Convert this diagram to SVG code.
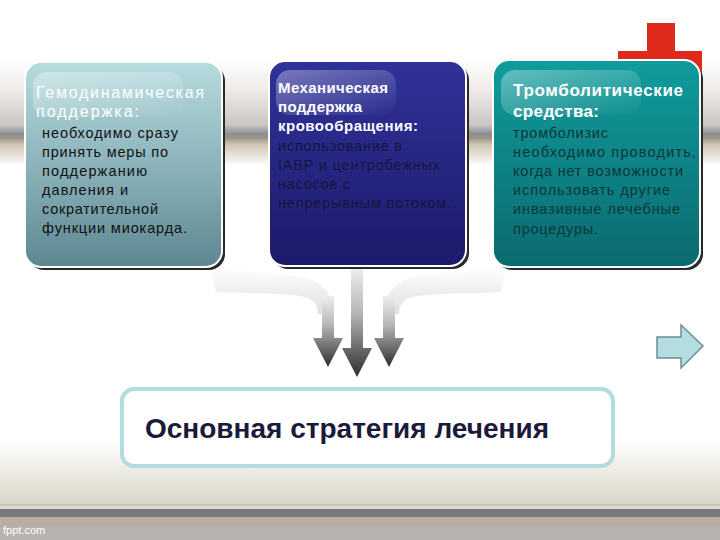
<svg xmlns="http://www.w3.org/2000/svg" width="720" height="540" viewBox="0 0 720 540">
<style>
.t{font-family:"Liberation Sans",Arial,sans-serif;font-size:14.5px;}
.h{font-family:"Liberation Sans",Arial,sans-serif;font-size:16px;fill:#ffffff;}
.hb{font-weight:bold;font-size:15px;}
.hc{font-weight:bold;font-size:17px;}
.b1{fill:#111111;}
.b2{fill:#15153e;}
.b3{fill:#0b3638;}
.shadow{fill:#2a2a2a;}
.rim{stroke:#ffffff;stroke-width:2;}
</style>
<defs>
<linearGradient id="band" x1="0" y1="0" x2="0" y2="1">
<stop offset="0" stop-color="#ffffff"/>
<stop offset="0.3" stop-color="#eeeae8"/>
<stop offset="0.62" stop-color="#c9c6c4"/>
<stop offset="0.7" stop-color="#8c9094"/>
<stop offset="0.74" stop-color="#9a9288"/>
<stop offset="0.8" stop-color="#cfc4b2"/>
<stop offset="1" stop-color="#ffffff"/>
</linearGradient>
<linearGradient id="foot" x1="0" y1="0" x2="0" y2="1">
<stop offset="0" stop-color="#ffffff"/>
<stop offset="1" stop-color="#d9d5c9"/>
</linearGradient>
<linearGradient id="g1" x1="0" y1="0" x2="0" y2="1">
<stop offset="0" stop-color="#b6dcdf"/>
<stop offset="0.5" stop-color="#8cb3ba"/>
<stop offset="1" stop-color="#5c8791"/>
</linearGradient>
<linearGradient id="g2" x1="0" y1="0" x2="0" y2="1">
<stop offset="0" stop-color="#30329a"/>
<stop offset="1" stop-color="#1b1b6a"/>
</linearGradient>
<linearGradient id="g3" x1="0" y1="0" x2="0" y2="1">
<stop offset="0" stop-color="#109c9c"/>
<stop offset="1" stop-color="#0b6a70"/>
</linearGradient>
<linearGradient id="gloss" x1="0" y1="0" x2="1" y2="1">
<stop offset="0" stop-color="#ffffff" stop-opacity="0.35"/>
<stop offset="1" stop-color="#ffffff" stop-opacity="0"/>
</linearGradient>
<linearGradient id="ag" x1="0" y1="0" x2="0" y2="1">
<stop offset="0" stop-color="#eeeeee"/>
<stop offset="0.4" stop-color="#b8b8b8"/>
<stop offset="1" stop-color="#2e2e2e"/>
</linearGradient>
<linearGradient id="tube" x1="0" y1="0" x2="0" y2="1">
<stop offset="0" stop-color="#ffffff"/>
<stop offset="1" stop-color="#e0e0e0"/>
</linearGradient>
</defs>

<!-- background -->
<rect x="0" y="0" width="720" height="540" fill="#ffffff"/>
<rect x="0" y="58" width="720" height="108" fill="url(#band)"/>
<rect x="0" y="440" width="720" height="64" fill="url(#foot)"/>
<rect x="0" y="504" width="720" height="2" fill="#c9c5b9"/>
<rect x="0" y="506" width="720" height="3" fill="#dcd8cc"/>
<rect x="0" y="509" width="720" height="8" fill="#787878"/>
<rect x="0" y="517" width="720" height="10" fill="#b9ada5"/>
<rect x="0" y="527" width="720" height="13" fill="#b7b3b1"/>
<text x="3" y="534" font-family="'Liberation Sans',Arial,sans-serif" font-size="11" fill="#ffffff">fppt.com</text>

<!-- red cross -->
<rect x="647" y="23" width="28" height="60" fill="#dd2a1b"/>
<rect x="618" y="51" width="84" height="40" fill="#dd2a1b"/>

<!-- connectors -->
<g id="connectors">
<path d="M210,266 C250,274 290,272 312,280 C328,287 333,300 333,314 L318,314 C318,303 312,298 300,296 C270,292 240,294 216,292 Z" fill="url(#tube)"/>
<path d="M507,266 C467,274 427,272 405,280 C389,287 384,300 384,314 L399,314 C399,303 405,298 417,296 C447,292 477,294 501,292 Z" fill="url(#tube)"/>
<polygon points="322,296 334,296 334,338 343,338 328,367 313,338 322,338" fill="url(#ag)"/>
<polygon points="351,268 363,268 363,348 372,348 357,377 342,348 351,348" fill="url(#ag)"/>
<polygon points="383,296 395,296 395,338 404,338 389,367 374,338 383,338" fill="url(#ag)"/>
<polygon points="657,337 681,337 681,325 703,346 681,368 681,358 657,358" fill="#b4dde1" stroke="#6f8f90" stroke-width="1.5"/>
</g>

<!-- node 1 -->
<g id="node-hemodynamic">
<rect x="28" y="65" width="197" height="205" rx="16" class="shadow"/>
<rect x="25" y="62" width="197" height="205" rx="16" fill="url(#g1)" class="rim"/>
<rect x="33" y="72" width="150" height="45" rx="14" fill="url(#gloss)"/>
<text class="h" x="36" y="98" textLength="168" lengthAdjust="spacing" fill="#eef8f8">Гемодинамическая</text>
<text class="h" x="36" y="117" textLength="103" lengthAdjust="spacing" fill="#eef8f8">поддержка:</text>
<text class="t b1" x="42" y="138" textLength="136" lengthAdjust="spacing">необходимо сразу</text>
<text class="t b1" x="42" y="157" textLength="126" lengthAdjust="spacing">принять меры по</text>
<text class="t b1" x="42" y="176" textLength="105" lengthAdjust="spacing">поддержанию</text>
<text class="t b1" x="42" y="195" textLength="86" lengthAdjust="spacing">давления и</text>
<text class="t b1" x="42" y="214" textLength="116" lengthAdjust="spacing">сократительной</text>
<text class="t b1" x="42" y="233" textLength="145" lengthAdjust="spacing">функции миокарда.</text>
</g>

<!-- node 2 -->
<g id="node-mechanical">
<rect x="272" y="64" width="197" height="205" rx="16" class="shadow"/>
<rect x="269" y="61" width="197" height="205" rx="16" fill="url(#g2)" class="rim"/>
<rect x="276" y="70" width="120" height="45" rx="14" fill="url(#gloss)"/>
<text class="h hb" x="278" y="93" textLength="110" lengthAdjust="spacing">Механическая</text>
<text class="h hb" x="278" y="112" textLength="84" lengthAdjust="spacing">поддержка</text>
<text class="h hb" x="278" y="131" textLength="140" lengthAdjust="spacing">кровообращения:</text>
<text class="t b2" x="278" y="151" textLength="124" lengthAdjust="spacing">использование в</text>
<text class="t b2" x="278" y="170" textLength="162" lengthAdjust="spacing">IABP и центробежных</text>
<text class="t b2" x="278" y="189" textLength="72" lengthAdjust="spacing">насосов с</text>
<text class="t b2" x="278" y="208" textLength="173" lengthAdjust="spacing">непрерывным потоком.</text>
</g>

<!-- node 3 -->
<g id="node-thrombolytic">
<rect x="496" y="63" width="207" height="207" rx="16" class="shadow"/>
<rect x="493" y="60" width="207" height="207" rx="16" fill="url(#g3)" class="rim"/>
<rect x="501" y="70" width="140" height="45" rx="14" fill="url(#gloss)"/>
<text class="h hc" x="513" y="96" textLength="170" lengthAdjust="spacing">Тромболитические</text>
<text class="h hc" x="513" y="117" textLength="86" lengthAdjust="spacing">средства:</text>
<text class="t b3" x="513" y="138" textLength="95" lengthAdjust="spacing">тромболизис</text>
<text class="t b3" x="513" y="157" textLength="183" lengthAdjust="spacing">необходимо проводить,</text>
<text class="t b3" x="513" y="176" textLength="170" lengthAdjust="spacing">когда нет возможности</text>
<text class="t b3" x="513" y="195" textLength="157" lengthAdjust="spacing">использовать другие</text>
<text class="t b3" x="513" y="214" textLength="167" lengthAdjust="spacing">инвазивные лечебные</text>
<text class="t b3" x="513" y="234" textLength="85" lengthAdjust="spacing">процедуры.</text>
</g>

<!-- node 4 -->
<g id="node-strategy">
<rect x="122" y="389" width="491" height="77" rx="12" fill="#ffffff" stroke="#b3dcdc" stroke-width="4"/>
<text x="145" y="438" font-family="'Liberation Sans',Arial,sans-serif" font-size="28" font-weight="bold" fill="#1a1a3a" textLength="404" lengthAdjust="spacing">Основная стратегия лечения</text>
</g>
</svg>
